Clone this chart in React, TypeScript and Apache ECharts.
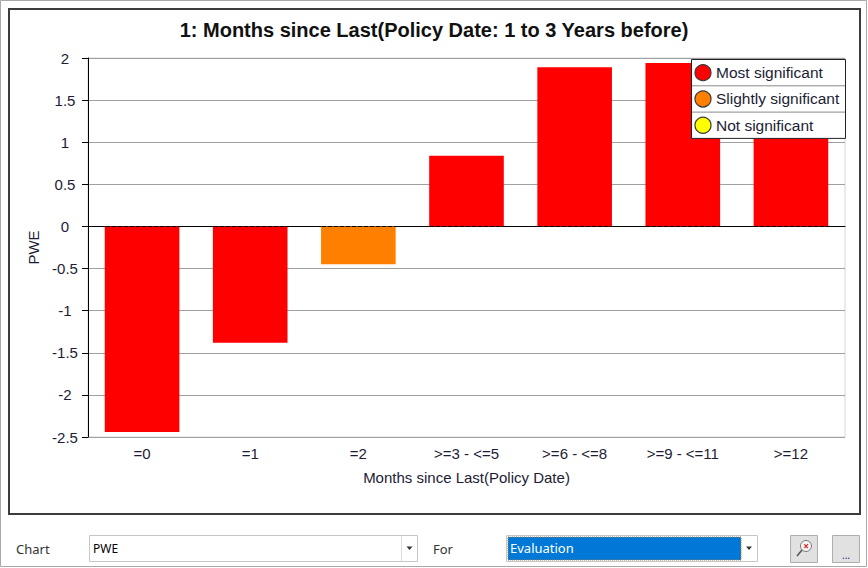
import React, { useEffect, useRef } from 'react';
import * as echarts from 'echarts';

const categories = ['=0', '=1', '=2', '>=3 - <=5', '>=6 - <=8', '>=9 - <=11', '>=12'];
const pweValues = [-2.44, -1.38, -0.45, 0.84, 1.89, 1.94, 1.25];
const significance = [0, 0, 1, 0, 0, 0, 0]; // index into legendNames
const legendNames = ['Most significant', 'Slightly significant', 'Not significant'];
const legendColors = ['#ff0000', '#ff8000', '#ffff00'];

const chartTitle = '1: Months since Last(Policy Date: 1 to 3 Years before)';
const xAxisName = 'Months since Last(Policy Date)';
const yAxisName = 'PWE';

const FONT = 'Arial, "Liberation Sans", sans-serif';
const UI_FONT = '"Noto Sans", "DejaVu Sans", sans-serif';
const TEXT = '#1c1c34';

// legend box drawn as graphic so it keeps the row separators
const buildLegend = () => {
  const x = 691, y = 59, w = 154, rowH = 26.3;
  const z = 100;
  const items: any[] = [
    { type: 'rect', z, shape: { x: x + 0.5, y: y + 0.5, width: w, height: rowH * 3 }, style: { fill: '#fff', stroke: '#222', lineWidth: 1 } }
  ];
  legendNames.forEach((name, i) => {
    const cy = y + rowH * i + rowH / 2 + 0.5;
    if (i > 0) {
      items.push({ type: 'line', z, shape: { x1: x + 1, y1: y + rowH * i + 0.5, x2: x + w, y2: y + rowH * i + 0.5 }, style: { stroke: '#8a8a8a', lineWidth: 1 } });
    }
    items.push({ type: 'circle', z, shape: { cx: x + 12, cy, r: 8 }, style: { fill: legendColors[i], stroke: '#3a3a3a', lineWidth: 1.2 } });
    items.push({ type: 'text', z, style: { x: x + 25, y: cy, text: name, fill: TEXT, font: `15.5px ${FONT}`, verticalAlign: 'middle' } });
  });
  return items;
};

const arrow = (cx: number, cy: number) => ({
  type: 'polygon',
  shape: { points: [[cx - 3, cy - 1.5], [cx + 3, cy - 1.5], [cx, cy + 2]] },
  style: { fill: '#333' }
});

const buildControls = () => [
  { type: 'text', style: { x: 16, y: 549, text: 'Chart', fill: '#333', font: `13px ${UI_FONT}`, verticalAlign: 'middle' } },
  { type: 'rect', shape: { x: 89.5, y: 535.5, width: 328, height: 26 }, style: { fill: '#fff', stroke: '#c6c6c6' } },
  { type: 'line', shape: { x1: 401.5, y1: 536, x2: 401.5, y2: 561 }, style: { stroke: '#dcdcdc' } },
  arrow(409.5, 548),
  { type: 'text', style: { x: 93, y: 548, text: 'PWE', fill: '#000', font: `12px ${UI_FONT}`, verticalAlign: 'middle' } },
  { type: 'text', style: { x: 433, y: 549, text: 'For', fill: '#333', font: `13px ${UI_FONT}`, verticalAlign: 'middle' } },
  { type: 'rect', shape: { x: 506.5, y: 535.5, width: 251, height: 26 }, style: { fill: '#fff', stroke: '#c6c6c6' } },
  { type: 'rect', shape: { x: 508, y: 537, width: 233, height: 23 }, style: { fill: '#0078d7', stroke: '#b07840', lineWidth: 1, lineDash: [1, 1] } },
  arrow(749, 548),
  { type: 'text', style: { x: 510, y: 548, text: 'Evaluation', fill: '#fff', font: `13px ${UI_FONT}`, verticalAlign: 'middle' } },
  { type: 'rect', shape: { x: 790.5, y: 535.5, width: 27, height: 27 }, style: { fill: '#e1e1e1', stroke: '#adadad' } },
  { type: 'circle', shape: { cx: 806, cy: 546, r: 5.5 }, style: { fill: '#f4f4f4', stroke: '#777', lineWidth: 1 } },
  { type: 'line', shape: { x1: 802, y1: 550, x2: 797, y2: 556 }, style: { stroke: '#555', lineWidth: 1.5 } },
  { type: 'text', style: { x: 806, y: 546, text: '×', fill: '#e02020', font: `bold 10px ${UI_FONT}`, align: 'center', verticalAlign: 'middle' } },
  { type: 'rect', shape: { x: 832.5, y: 535.5, width: 27, height: 27 }, style: { fill: '#e1e1e1', stroke: '#adadad' } },
  { type: 'text', style: { x: 846, y: 555, text: '...', fill: '#1c2a70', font: `10px ${UI_FONT}`, align: 'center', verticalAlign: 'middle' } }
];

const App: React.FC = () => {
  const chartRef = useRef<HTMLDivElement>(null);

  useEffect(() => {
    if (!chartRef.current) return;
    const chart = echarts.init(chartRef.current, null, { renderer: 'svg' });

    const option: echarts.EChartsOption = {
      animation: false,
      backgroundColor: '#fff',
      title: {
        text: chartTitle,
        left: 'center',
        top: 15,
        textStyle: { fontFamily: FONT, fontSize: 20, fontWeight: 'bold', color: '#111' }
      },
      grid: {
        left: 88,
        right: 23,
        top: 58,
        bottom: 131,
        show: true,
        borderColor: '#d6d6d6',
        borderWidth: 1
      },
      xAxis: {
        type: 'category',
        data: categories,
        name: xAxisName,
        nameLocation: 'middle',
        nameGap: 33,
        nameTextStyle: { fontFamily: FONT, fontSize: 15, color: TEXT },
        axisLine: { lineStyle: { color: '#000', width: 1 } },
        axisTick: { alignWithLabel: true, length: 6, lineStyle: { color: '#000' } },
        axisLabel: { fontFamily: FONT, fontSize: 15, color: TEXT, margin: 9 }
      },
      yAxis: {
        type: 'value',
        min: -2.5,
        max: 2,
        interval: 0.5,
        name: yAxisName,
        nameLocation: 'middle',
        nameRotate: 90,
        nameGap: 43,
        nameTextStyle: { fontFamily: FONT, fontSize: 15, color: TEXT },
        axisLine: { show: true, lineStyle: { color: '#000', width: 1 } },
        axisTick: { show: true, length: 6, lineStyle: { color: '#000' } },
        axisLabel: { fontFamily: FONT, fontSize: 15, color: TEXT, margin: 23, align: 'center' },
        splitLine: { lineStyle: { color: '#a0a0a0', width: 1 } }
      },
      series: [
        {
          type: 'bar',
          barWidth: '69%',
          data: pweValues.map((v, i) => ({
            value: v,
            itemStyle: { color: legendColors[significance[i]] }
          })),
          markLine: {
            silent: true,
            symbol: ['none', 'none'],
            label: { show: false },
            lineStyle: { color: '#000', type: [4, 2], width: 1 },
            data: [{ yAxis: 0 }]
          }
        }
      ],
      graphic: [
        { type: 'rect', z: -1, silent: true, shape: { x: 0.5, y: 0.5, width: 866, height: 566 }, style: { fill: 'none', stroke: '#a8a8a8', lineWidth: 1 } },
        { type: 'rect', z: 90, silent: true, shape: { x: 9, y: 9, width: 851, height: 505 }, style: { fill: 'none', stroke: '#3c3c3c', lineWidth: 2 } },
        ...buildLegend(),
        ...buildControls()
      ] as any
    };

    chart.setOption(option);
    return () => chart.dispose();
  }, []);

  return (
    <div
      ref={chartRef}
      style={{ position: 'absolute', left: 0, top: 0, width: 868, height: 568 }}
    />
  );
};

export default App;
